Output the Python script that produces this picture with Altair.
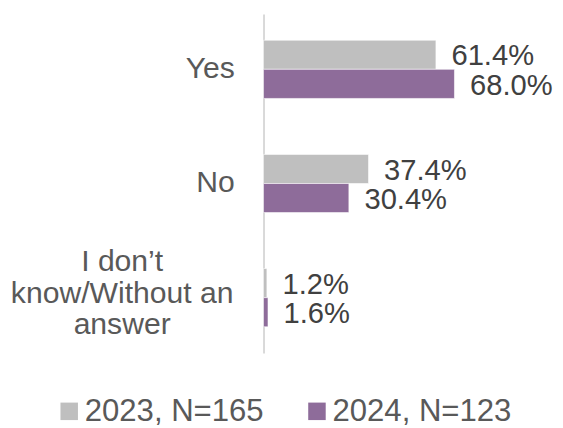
import altair as alt
import pandas as pd

categories = ["Yes", "No", "I don\u2019t\nknow/Without an\nanswer"]
series = ["2023, N=165", "2024, N=123"]
values_2023 = [61.4, 37.4, 1.2]
values_2024 = [68.0, 30.4, 1.6]
colors = ["#BFBFBF", "#8E6C9A"]

rows = []
for c, v in zip(categories, values_2023):
    rows.append({"category": c, "series": series[0], "value": v})
for c, v in zip(categories, values_2024):
    rows.append({"category": c, "series": series[1], "value": v})
df = pd.DataFrame(rows)

font = "Liberation Sans"
multi_test = "datum.value != 'Yes' && datum.value != 'No'"

y_enc = alt.Y(
    "category:N",
    sort=categories,
    scale=alt.Scale(paddingInner=0.49, paddingOuter=0.23),
    axis=alt.Axis(
        title=None,
        ticks=False,
        tickSize=0,
        domainColor="#D9D9D9",
        domainWidth=2,
        labelFont=font,
        labelFontSize=31,
        labelColor="#595959",
        labelLineHeight=32,
        labelBaseline="middle",
        labelLimit=300,
        labelExpr="split(datum.label, '\\n')",
        labelAlign={"condition": {"test": multi_test, "value": "center"}, "value": "right"},
        labelPadding={"condition": {"test": multi_test, "value": 146}, "value": 30},
        labelOffset={"condition": {"test": multi_test, "value": -36}, "value": 0},
    ),
)

x_enc = alt.X("value:Q", scale=alt.Scale(domain=[0, 100]), axis=None)
yoff = alt.YOffset("series:N", sort=series, scale=alt.Scale(paddingInner=0, paddingOuter=0))

base = alt.Chart(df)

bars = base.mark_bar(stroke="white", strokeWidth=0.6).encode(
    y=y_enc,
    x=x_enc,
    yOffset=yoff,
    color=alt.Color(
        "series:N",
        sort=series,
        scale=alt.Scale(domain=series, range=colors),
        legend=alt.Legend(
            title=None,
            orient="none",
            direction="horizontal",
            legendX=-216,
            legendY=393,
            symbolType="square",
            symbolSize=324,
            symbolStrokeWidth=0,
            labelFont=font,
            labelFontSize=32,
            labelColor="#595959",
            labelOffset=0,
            columnPadding=38,
            labelLimit=400,
        ),
    ),
)

labels = base.transform_calculate(
    label="format(datum.value, '.1f') + '%'"
).mark_text(
    align="left", baseline="middle", dx=16, dy=2, font=font, fontSize=30, color="#404040"
).encode(
    y=alt.Y("category:N", sort=categories),
    x=alt.X("value:Q"),
    yOffset=yoff,
    text="label:N",
)

chart = alt.layer(bars, labels).properties(
    width=289,
    height=349,
    autosize=alt.AutoSizeParams(type="none"),
    padding={"left": 263, "top": 0, "right": 11, "bottom": 70},
).configure(background="white").configure_view(stroke=None)

chart.save("out.html", embed_options={"renderer": "svg", "actions": False})
